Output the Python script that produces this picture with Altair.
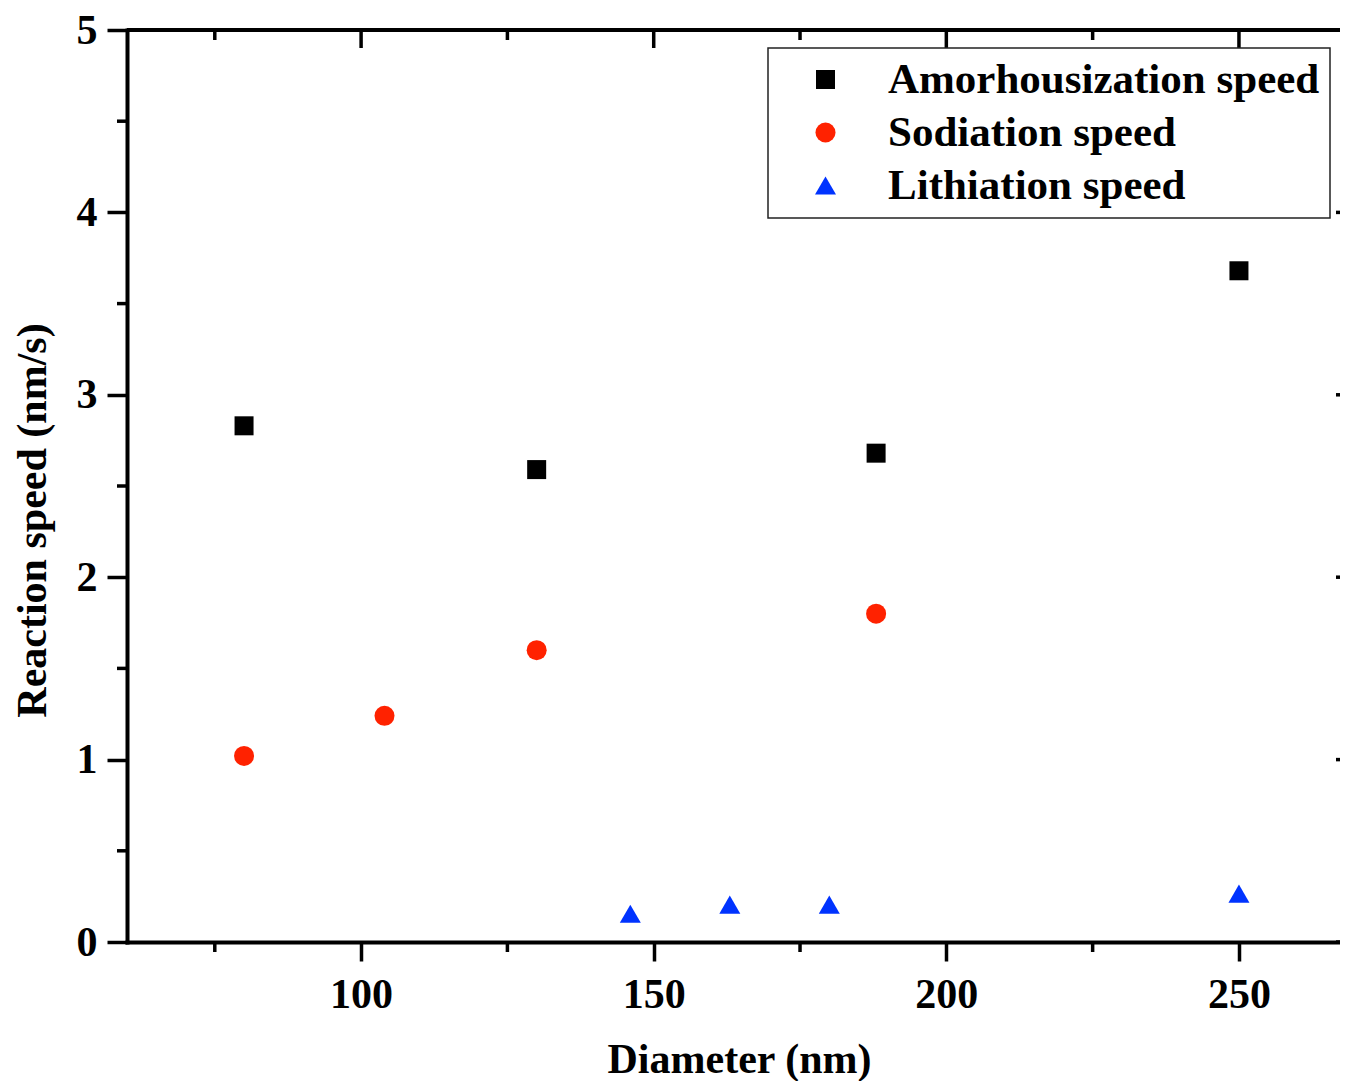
import altair as alt
import pandas as pd

# ---- data ----
amorph_x = [80, 130, 188, 250]
amorph_y = [2.83, 2.59, 2.68, 3.68]
sod_x = [80, 104, 130, 188]
sod_y = [1.02, 1.24, 1.60, 1.80]
lith_x = [146, 163, 180, 250]
lith_y = [0.155, 0.205, 0.205, 0.265]

series_names = ["Amorhousization speed", "Sodiation speed", "Lithiation speed"]
series_colors = ["#000000", "#FF2200", "#0033FF"]
series_shapes = ["square", "circle", "triangle-up"]
series_sizes = [361, 441, 729]

x_major = [100, 150, 200, 250]
x_minor = [75, 125, 175, 225]
y_major = [0, 1, 2, 3, 4, 5]
y_minor = [0.5, 1.5, 2.5, 3.5, 4.5]

FONT = "Liberation Serif"
W_VIEW = 1213      # visible plot width (rest cut by the page edge)
W_RANGE = 1229     # full scale range (x = 60 .. 270)
H = 912

rows = []
for name, xs, ys in zip(series_names, [amorph_x, sod_x, lith_x], [amorph_y, sod_y, lith_y]):
    for xv, yv in zip(xs, ys):
        rows.append({"d": xv, "v": yv, "series": name})
df = pd.DataFrame(rows)

xscale = alt.Scale(domain=[60, 270], range=[0, W_RANGE], nice=False, zero=False)
yscale = alt.Scale(domain=[0, 5], nice=False, zero=False)

points = alt.Chart(df).mark_point(filled=True, opacity=1, strokeWidth=0).encode(
    x=alt.X("d:Q", scale=xscale, axis=alt.Axis(
        values=x_major, title="Diameter (nm)", format="d",
        tickSize=19, tickWidth=3.5, tickColor="black",
        domainWidth=4, domainColor="black", domainCap="square",
        labelFont=FONT, labelFontWeight="bold", labelFontSize=42, labelColor="black",
        labelBaseline="alphabetic", labelPadding=46,
        titleFont=FONT, titleFontWeight="bold", titleFontSize=42, titleColor="black",
        titleBaseline="alphabetic", titleY=130, titleX=612, grid=False)),
    y=alt.Y("v:Q", scale=yscale, axis=alt.Axis(
        values=y_major, title="Reaction speed (nm/s)", format="d",
        tickSize=20, tickWidth=3.5, tickColor="black",
        domainWidth=4, domainColor="black", domainCap="square",
        labelFont=FONT, labelFontWeight="bold", labelFontSize=42, labelColor="black",
        labelBaseline="middle", labelPadding=10,
        titleFont=FONT, titleFontWeight="bold", titleFontSize=42, titleColor="black",
        titleBaseline="alphabetic", titleX=-82, titleY=490, grid=False)),
    color=alt.Color("series:N", scale=alt.Scale(domain=series_names, range=series_colors),
                    legend=alt.Legend(title=None)),
    shape=alt.Shape("series:N", scale=alt.Scale(domain=series_names, range=series_shapes),
                    legend=alt.Legend(title=None)),
    size=alt.Size("series:N", scale=alt.Scale(domain=series_names, range=series_sizes),
                  legend=None),
)

tick_style = dict(color="black", strokeWidth=3.5)

bottom_minor = alt.Chart(pd.DataFrame({"d": x_minor})).mark_rule(**tick_style).encode(
    x=alt.X("d:Q", scale=xscale), y=alt.value(H), y2=alt.value(H + 10))
left_minor = alt.Chart(pd.DataFrame({"v": y_minor})).mark_rule(**tick_style).encode(
    y=alt.Y("v:Q", scale=yscale), x=alt.value(0), x2=alt.value(-10))
top_major = alt.Chart(pd.DataFrame({"d": x_major})).mark_rule(**tick_style).encode(
    x=alt.X("d:Q", scale=xscale), y=alt.value(0), y2=alt.value(18))
top_minor = alt.Chart(pd.DataFrame({"d": x_minor})).mark_rule(**tick_style).encode(
    x=alt.X("d:Q", scale=xscale), y=alt.value(0), y2=alt.value(10))
right_major = alt.Chart(pd.DataFrame({"v": y_major})).mark_rule(**tick_style).encode(
    y=alt.Y("v:Q", scale=yscale), x=alt.value(W_RANGE), x2=alt.value(W_RANGE - 20))
right_minor = alt.Chart(pd.DataFrame({"v": y_minor})).mark_rule(**tick_style).encode(
    y=alt.Y("v:Q", scale=yscale), x=alt.value(W_RANGE), x2=alt.value(W_RANGE - 10))
top_frame = alt.Chart(pd.DataFrame({"v": [5]})).mark_rule(color="black", strokeWidth=4).encode(
    y=alt.Y("v:Q", scale=yscale), x=alt.value(0), x2=alt.value(W_RANGE))

chart = alt.layer(
    points, top_frame, bottom_minor, left_minor, top_major, top_minor, right_major, right_minor
).properties(
    width=W_VIEW, height=H,
    autosize=alt.AutoSizeParams(type="none"),
    padding={"left": 119, "top": 22, "right": 0, "bottom": 139},
    background="white",
).configure_view(stroke=None).configure_legend(
    orient="none", legendX=641, legendY=18,
    padding=10, symbolOffset=26, labelOffset=41, rowPadding=9,
    labelFont=FONT, labelFontWeight="bold", labelFontSize=43, labelColor="black",
    labelLimit=1000, symbolSize=440, symbolStrokeWidth=0, symbolOpacity=1,
    strokeColor="#222222", strokeWidth=1.5, fillColor="white", cornerRadius=0,
)

chart.save("out.html", embed_options={"renderer": "svg", "actions": False})
